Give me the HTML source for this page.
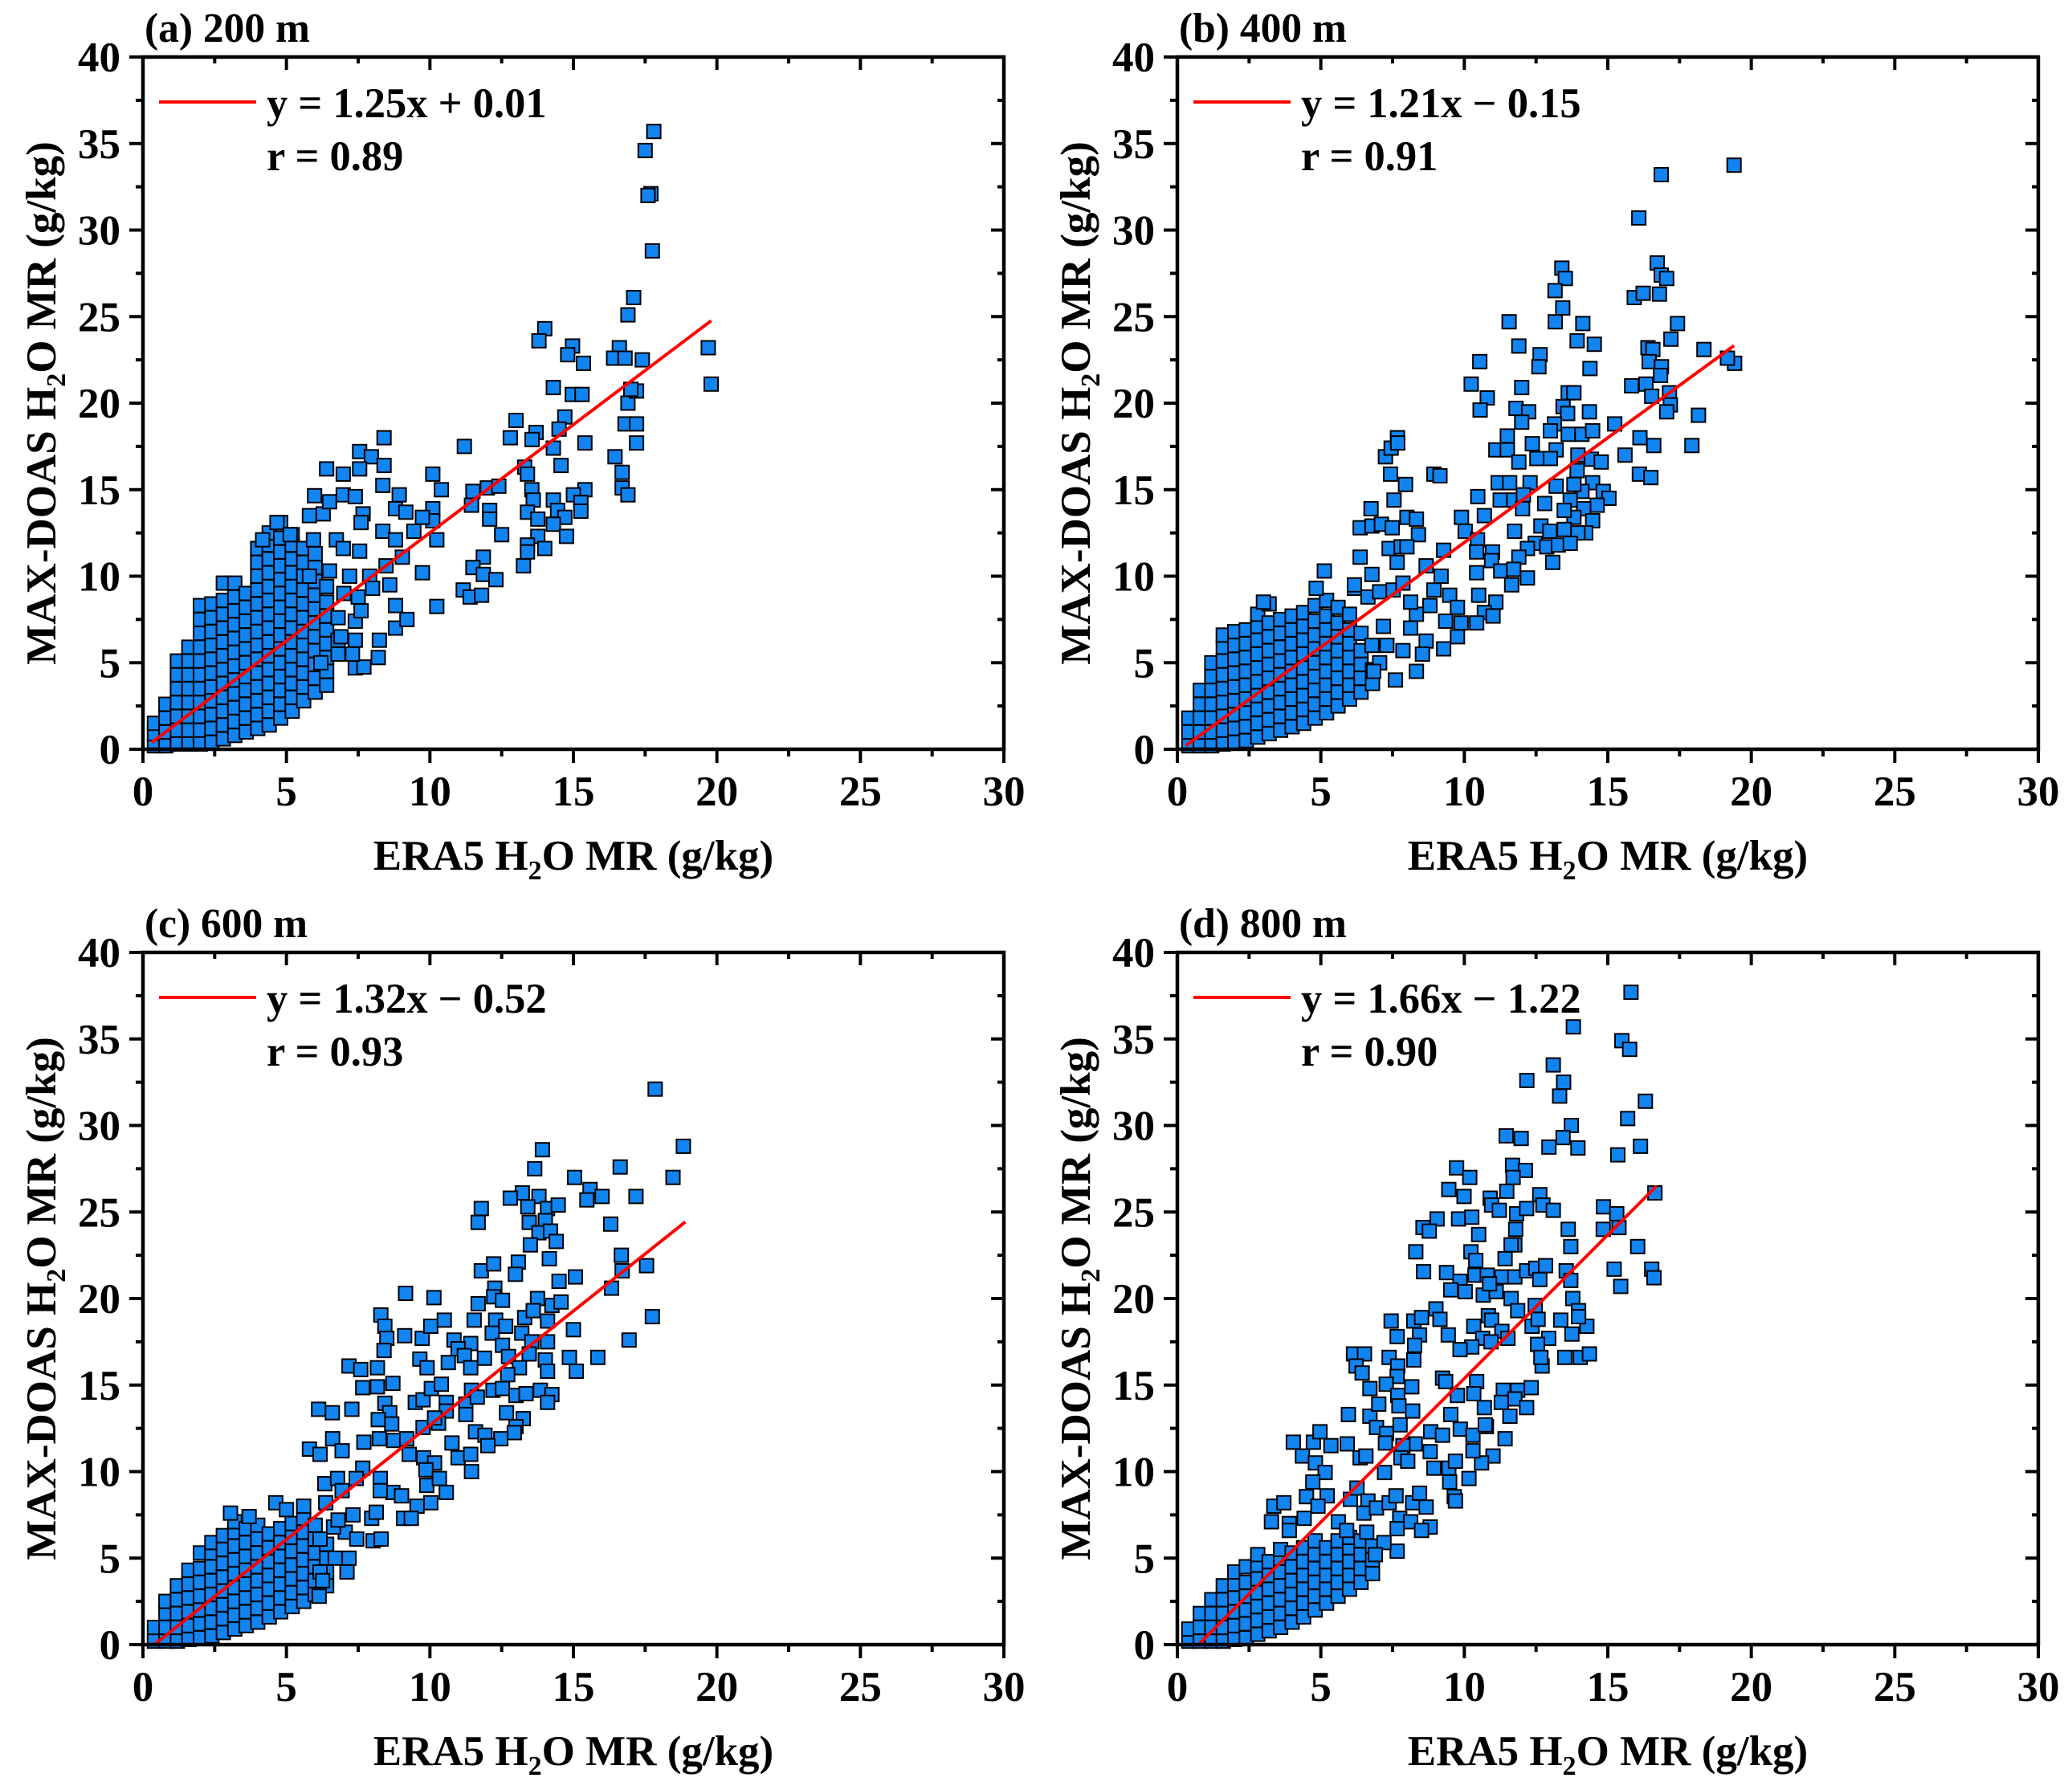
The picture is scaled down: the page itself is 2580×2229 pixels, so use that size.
<!DOCTYPE html>
<html><head><meta charset="utf-8">
<style>
html,body{margin:0;padding:0;background:#fff;}
svg{display:block;}
text{font-family:"Liberation Serif",serif;font-weight:bold;fill:#000;}
</style></head>
<body>
<svg id="fig" xmlns="http://www.w3.org/2000/svg" width="2580" height="2229" viewBox="0 0 2580 2229"></svg>
<script>
// ---------- data ----------
const xTicks = [0,5,10,15,20,25,30];
const yTicks = [0,5,10,15,20,25,30,35,40];
const panelTitles = ["(a) 200 m","(b) 400 m","(c) 600 m","(d) 800 m"];
const slopes = [1.25,1.21,1.32,1.66];
const intercepts = [0.01,-0.15,-0.52,-1.22];
const fitRanges = [[0.3,19.8],[0.3,19.4],[0.4,18.9],[0.75,16.7]];
const eqLabels = ["y = 1.25x + 0.01","y = 1.21x \u2212 0.15","y = 1.32x \u2212 0.52","y = 1.66x \u2212 1.22"];
const rLabels = ["r = 0.89","r = 0.91","r = 0.93","r = 0.90"];

// dense clusters: [x, y1, y2, ...]
const denseA = [
[0.4,0.2,0.9,1.5],[0.8,0.2,1.0,1.8,2.6],[1.2,0.3,1.1,1.9,2.7,3.5,4.3,5.1],
[1.6,0.3,1.1,1.9,2.7,3.5,4.3,5.1,5.9],[2.0,0.3,1.1,1.9,2.7,3.5,4.3,5.1,5.9,6.7,7.5,8.3],
[2.4,0.4,1.2,2.0,2.8,3.6,4.4,5.2,6.0,6.8,7.6,8.4],[2.8,0.6,1.4,2.2,3.0,3.8,4.6,5.4,6.2,7.0,7.8,8.6,9.6],
[3.2,0.8,1.6,2.4,3.2,4.0,4.8,5.6,6.4,7.2,8.0,8.8,9.6],[3.6,1.0,1.8,2.6,3.4,4.2,5.0,5.8,6.6,7.4,8.2,9.0],
[4.0,1.2,2.0,2.8,3.6,4.4,5.2,6.0,6.8,7.6,8.4,9.2,10.0,10.8,11.6],
[4.4,1.4,2.2,3.0,3.8,4.6,5.4,6.2,7.0,7.8,8.6,9.4,10.2,11.0,11.8,12.5],
[4.8,1.8,2.6,3.4,4.2,5.0,5.8,6.6,7.4,8.2,9.0,9.8,10.6,11.4,12.2,13.1],
[5.2,2.2,3.0,3.8,4.6,5.4,6.2,7.0,7.8,8.6,9.4,10.2,11.0,11.8,12.4],
[5.6,2.8,3.6,4.4,5.2,6.0,6.8,7.6,8.4,9.2,10.0,10.8,11.6],
[6.0,3.3,4.1,4.9,5.7,6.5,7.3,8.1,8.9,9.7,10.5,11.3],
[6.4,3.7,4.5,5.3,6.1,6.9,7.7,8.5,9.4],[6.8,5.5,6.3,7.6]];
const sparseA = [[17.8,35.7],[17.5,34.6],[17.7,32.1],[17.6,32.0],[17.75,28.8],[17.1,26.1],[16.9,25.1],[19.7,23.2],[19.8,21.1],
[14.0,24.3],[13.8,23.6],[14.97,23.3],[14.8,22.8],[15.35,22.3],[16.6,23.2],[16.4,22.6],[17.4,22.5],[16.8,22.6],
[14.3,20.9],[14.96,20.5],[15.3,20.5],[16.9,20.0],[17.2,20.7],[17.0,20.8],[14.7,19.2],[14.5,18.5],[16.8,18.8],[17.2,18.8],
[13.0,19.0],[12.8,18.0],[13.7,18.3],[13.56,17.9],[14.3,17.4],[15.4,17.7],[17.2,17.7],[11.2,17.5],[14.57,16.4],[13.3,16.3],[13.4,15.9],
[16.45,16.9],[16.7,16.0],[16.7,15.1],[16.9,14.7],[11.5,14.9],[11.45,14.1],[12.0,15.1],[12.4,15.2],[13.55,15.0],[13.6,14.4],
[15.4,15.0],[15.0,14.7],[15.26,14.26],[15.26,13.76],[14.3,14.4],[14.45,13.8],[14.7,13.4],[13.4,13.7],[13.76,13.3],[14.3,13.0],
[14.76,12.3],[13.76,12.3],[12.08,13.8],[12.08,13.3],[12.5,12.4],[13.4,11.8],[13.4,11.4],[14.0,11.6],[11.86,11.1],[11.5,10.5],
[11.86,10.1],[13.26,10.6],[12.3,9.8],[11.16,9.2],[11.4,8.8],[11.8,8.9],[10.24,8.25],[9.74,10.2],[10.1,13.9],[10.1,13.2],[10.24,12.1],
[10.1,15.9],[10.4,15.0],[9.74,13.4],[9.44,12.6],[8.24,6.3],[8.2,5.3],[8.8,7.0],[9.2,7.5],[7.4,4.7],[7.7,4.75],[8.8,8.3],[7.4,6.3],
[7.4,7.4],[7.5,8.8],[8.4,18.0],[7.55,17.2],[7.96,16.9],[8.4,16.4],[6.4,16.2],[6.98,15.9],[7.55,16.2],[5.98,14.65],[6.28,13.6],
[5.8,13.5],[6.5,14.3],[6.98,14.7],[7.4,14.6],[7.67,13.6],[8.36,15.25],[8.93,14.7],[8.8,13.9],[9.16,13.7],[7.6,13.1],[8.36,12.6],
[8.8,12.1],[5.94,12.1],[6.74,12.1],[6.98,11.6],[7.55,11.45],[4.67,13.1],[5.13,12.4],[4.17,12.1],[8.47,10.6],[9.04,11.1],[8.6,9.5],
[6.5,10.3],[7.2,10.0],[7.9,10.0],[5.8,10.0],[7.0,9.0],[7.6,8.0],[6.9,6.5],[8.0,9.3],[6.2,5.0],[7.3,5.5]];

const denseB = [
[0.4,0.2,1.0,1.8],[0.8,0.2,1.0,1.8,2.6,3.4],[1.2,0.2,1.0,1.8,2.6,3.4,4.2,5.0],
[1.6,0.3,1.1,1.9,2.7,3.5,4.3,5.1,5.9,6.6],[2.0,0.4,1.2,2.0,2.8,3.6,4.4,5.2,6.0,6.8],
[2.4,0.5,1.3,2.1,2.9,3.7,4.5,5.3,6.1,6.9],[2.8,0.7,1.5,2.3,3.1,3.9,4.7,5.5,6.3,7.1,7.8],
[3.2,0.9,1.7,2.5,3.3,4.1,4.9,5.7,6.5,7.3,8.4],[3.6,1.1,1.9,2.7,3.5,4.3,5.1,5.9,6.7,7.5],
[4.0,1.3,2.1,2.9,3.7,4.5,5.3,6.1,6.9,7.7],[4.4,1.5,2.3,3.1,3.9,4.7,5.5,6.3,7.1,7.9],
[4.8,1.8,2.6,3.4,4.2,5.0,5.8,6.6,7.4,8.3],[5.2,2.1,2.9,3.7,4.5,5.3,6.1,6.9,7.7,8.6],
[5.6,2.5,3.3,4.1,4.9,5.7,6.5,7.3,8.2],[6.0,2.9,3.7,4.5,5.3,6.1,6.9,7.8],
[6.4,3.3,4.1,4.9,5.7,6.7],[6.8,3.8,4.6]];
const sparseB = [[19.4,33.75],[16.86,33.2],[16.08,30.7],[16.72,28.1],[16.86,27.4],[17.05,27.2],[16.8,26.3],[15.92,26.1],[16.23,26.35],
[13.4,27.8],[13.52,27.2],[13.16,26.5],[13.43,25.5],[11.56,24.7],[13.17,24.7],[14.13,24.6],[13.93,23.6],[14.53,23.4],[17.43,24.6],[17.2,23.7],
[11.9,23.3],[12.64,22.8],[12.6,22.1],[10.54,22.4],[14.38,22.0],[18.35,23.1],[16.4,23.2],[16.57,23.1],[16.44,22.4],[16.87,22.1],
[19.42,22.3],[19.17,22.6],[10.24,21.1],[12.0,20.9],[10.8,20.3],[10.55,19.6],[11.8,19.7],[12.24,19.5],[12.0,18.9],
[15.83,21.0],[16.33,21.1],[16.84,21.6],[16.53,20.4],[17.15,20.6],[17.18,19.9],[17.05,19.5],[18.16,19.3],[17.93,17.55],
[13.62,20.6],[13.82,20.6],[13.44,19.8],[13.6,19.4],[14.36,19.5],[13.14,18.8],[13.0,18.4],[13.62,18.2],[14.1,18.2],[14.47,18.4],
[15.24,18.8],[16.12,18.0],[16.6,17.55],[11.5,18.1],[11.1,17.3],[11.5,17.3],[12.37,17.65],[13.2,17.3],[12.53,16.8],[13.0,16.8],
[11.9,16.6],[13.96,17.0],[14.43,16.76],[14.77,16.6],[15.6,17.0],[16.1,15.9],[16.5,15.7],[13.93,16.1],[14.47,15.4],[14.1,14.9],
[14.84,14.9],[15.04,14.5],[14.63,14.1],[14.16,13.9],[14.47,13.2],[14.23,12.5],[13.69,14.4],[13.82,13.4],[13.2,15.2],[13.82,15.3],
[12.8,14.2],[13.48,13.8],[11.18,15.4],[11.58,15.4],[12.29,15.4],[10.47,14.6],[11.25,14.4],[11.72,14.4],[12.06,14.7],[10.7,13.5],
[12.03,13.9],[9.9,13.4],[11.75,12.6],[12.67,12.9],[12.98,12.6],[13.48,12.7],[13.96,12.5],[12.47,11.9],[12.87,11.7],[13.28,11.8],
[13.69,11.9],[12.2,11.6],[13.08,10.8],[11.9,11.1],[10.03,12.6],[10.46,12.1],[10.43,11.4],[10.98,11.4],[10.95,10.9],[10.43,10.2],
[11.27,10.3],[11.72,10.4],[12.2,9.9],[11.65,9.5],[9.28,11.5],[8.67,10.6],[9.19,10.0],[8.94,9.2],[9.49,8.9],[9.76,8.2],[10.5,8.9],
[11.1,8.5],[10.7,7.9],[10.43,7.3],[11.0,7.7],[9.89,7.3],[9.35,7.4],[9.76,6.5],[9.28,5.8],[8.8,8.3],[8.33,7.8],[8.67,6.25],[8.13,7.0],
[8.54,5.5],[8.33,4.5],[7.6,4.0],[7.86,5.7],[7.05,5.0],[7.3,6.0],[7.18,7.1],[6.78,6.0],[6.84,4.5],[6.17,9.3],[6.64,8.8],[7.05,9.1],
[7.52,9.2],[7.86,9.6],[8.13,8.5],[6.37,11.1],[6.78,10.1],[7.66,10.8],[7.38,11.6],[7.8,11.7],[6.37,12.8],[6.78,12.9],[7.11,13.0],
[7.49,12.8],[6.75,13.9],[8.0,13.4],[8.33,13.3],[8.4,12.4],[8.0,11.7],[7.55,14.4],[7.95,15.3],[7.43,15.9],[7.25,16.9],[7.45,17.4],
[7.67,18.0],[7.68,17.7],[8.94,15.9],[9.15,15.8],[5.12,10.3],[4.84,9.3],[6.17,9.5],[3.0,8.5]];

const denseC = [
[0.4,0.2,1.0],[0.8,0.2,1.0,1.8,2.5],[1.2,0.2,1.0,1.8,2.6,3.4],[1.6,0.3,1.1,1.9,2.7,3.5,4.3],
[2.0,0.4,1.2,2.0,2.8,3.6,4.4,5.3],[2.4,0.5,1.3,2.1,2.9,3.7,4.5,5.3,5.9],
[2.8,0.7,1.5,2.3,3.1,3.9,4.7,5.5,6.3],[3.2,0.9,1.7,2.5,3.3,4.1,4.9,5.7,6.5,7.1],
[3.6,1.1,1.9,2.7,3.5,4.3,5.1,5.9,6.7],[4.0,1.3,2.1,2.9,3.7,4.5,5.3,6.1,6.9],
[4.4,1.6,2.4,3.2,4.0,4.8,5.6,6.4],[4.8,1.9,2.7,3.5,4.3,5.1,5.9,6.7],
[5.2,2.2,3.0,3.8,4.6,5.4,6.2,7.0],[5.6,2.5,3.3,4.1,4.9,5.7,6.5,7.3],
[6.0,2.9,3.7,4.5,5.3,6.1,6.9],[6.4,3.4,4.2,5.0,5.8]];
const sparseC = [[17.85,32.1],[18.83,28.8],[13.92,28.6],[16.63,27.6],[13.65,27.5],[15.04,27.0],[18.47,27.0],[13.22,26.1],[12.8,25.8],
[13.8,25.9],[13.41,25.3],[14.1,25.2],[14.47,25.4],[15.58,26.3],[15.47,25.7],[16.0,25.9],[17.18,25.9],[11.79,25.2],[11.68,24.4],
[13.46,24.4],[14.02,24.5],[13.8,23.8],[14.2,23.9],[14.4,23.3],[13.5,23.1],[14.16,22.3],[16.3,24.3],[16.67,22.5],[16.7,21.6],
[17.55,21.9],[11.79,21.6],[12.22,22.0],[13.08,22.1],[12.98,21.4],[14.5,21.0],[15.07,21.25],[16.33,20.6],[9.15,20.3],[10.14,20.05],
[12.26,20.6],[12.22,20.1],[11.68,19.7],[12.53,19.9],[13.75,20.0],[14.25,19.6],[14.57,19.8],[8.29,19.05],[8.43,18.4],[8.5,17.7],
[8.4,17.0],[9.12,17.85],[9.73,17.7],[10.03,18.4],[10.5,18.75],[11.54,18.75],[12.29,18.75],[12.64,18.4],[13.3,18.9],[13.6,19.3],
[14.1,18.7],[15.0,18.2],[17.75,18.95],[16.94,17.6],[10.84,17.6],[11.42,17.4],[10.98,17.1],[12.17,18.0],[12.53,17.3],[13.2,18.0],
[13.55,17.5],[14.1,17.5],[9.65,16.5],[9.9,16.0],[10.64,16.3],[11.2,16.7],[11.9,16.55],[11.42,16.0],[12.74,16.65],[13.12,16.0],
[13.46,16.8],[14.02,16.45],[14.1,15.8],[14.86,16.6],[15.1,15.8],[15.85,16.6],[12.71,15.6],[7.18,16.1],[7.59,15.9],[8.17,16.0],
[7.66,14.85],[8.17,14.9],[8.71,15.1],[6.12,13.6],[6.6,13.4],[7.28,13.6],[8.43,13.95],[8.6,13.4],[9.49,14.0],[9.76,14.15],[10.05,14.8],
[10.4,15.05],[10.57,14.0],[11.25,13.9],[11.45,14.7],[12.2,14.7],[12.53,14.8],[13.0,14.4],[13.35,14.5],[13.85,14.7],[14.25,14.45],
[14.1,14.0],[11.65,14.3],[11.25,13.3],[10.57,13.5],[8.2,13.0],[8.67,12.75],[9.76,12.55],[10.3,12.8],[10.16,13.1],[12.67,13.4],
[13.25,13.06],[13.0,12.6],[12.94,12.25],[11.59,12.3],[11.92,12.1],[12.47,11.9],[12.02,11.5],[5.8,11.3],[6.17,11.0],[6.61,11.9],
[6.94,11.2],[7.7,11.7],[8.24,11.9],[8.74,11.8],[9.19,11.9],[10.77,11.65],[10.98,10.8],[11.42,11.0],[11.45,10.0],[9.28,11.0],
[9.78,10.8],[10.16,10.5],[9.86,10.1],[7.66,10.2],[8.27,9.6],[8.71,8.8],[9.01,8.6],[9.89,9.2],[10.33,9.6],[10.57,8.8],[10.03,8.2],
[9.55,8.0],[9.08,7.3],[9.35,7.3],[6.34,9.3],[6.78,9.6],[6.94,8.9],[7.43,9.6],[8.27,8.9],[7.32,7.5],[7.97,7.3],[8.13,7.65],[8.02,6.0],
[8.3,6.1],[7.05,6.5],[7.45,6.1],[7.18,5.0],[7.11,4.2],[6.64,6.8],[6.7,5.0],[6.37,8.2],[6.17,6.1],[6.17,4.2],[6.26,3.7],[6.14,2.8],
[4.63,8.2],[3.05,7.6],[3.7,7.4],[5.6,8.0],[5.0,7.8],[6.8,7.2]];

const denseD = [
[0.4,0.2,0.9],[0.8,0.2,1.0,1.8],[1.2,0.2,1.0,1.8,2.6],[1.6,0.2,1.0,1.8,2.6,3.4],
[2.0,0.3,1.1,1.9,2.7,3.5,4.2],[2.4,0.4,1.2,2.0,2.8,3.6,4.5],[2.8,0.6,1.4,2.2,3.0,3.8,4.6,5.2],
[3.2,0.8,1.6,2.4,3.2,4.0,4.8],[3.6,1.0,1.8,2.6,3.4,4.2,5.0,5.5],[4.0,1.3,2.1,2.9,3.7,4.5,5.3],
[4.4,1.6,2.4,3.2,4.0,4.8,5.6],[4.8,2.0,2.8,3.6,4.4,5.2,6.0],[5.2,2.4,3.2,4.0,4.8,5.6],
[5.6,2.8,3.6,4.4,5.2,6.0],[6.0,3.2,4.0,4.8,5.6,6.2],[6.4,3.6,4.4,5.2,6.0],[6.8,4.1,4.9,5.7]];
const sparseD = [[15.81,37.7],[13.8,35.7],[15.49,34.9],[15.76,34.4],[13.1,33.5],[12.18,32.6],[13.46,32.5],[13.32,31.7],[16.31,31.4],
[15.69,30.4],[13.73,30.0],[13.44,29.3],[11.46,29.4],[11.98,29.25],[12.95,28.75],[13.96,28.7],[15.35,28.3],[16.14,28.8],[9.73,27.55],
[11.68,27.7],[12.13,27.4],[11.7,27.0],[10.19,27.0],[9.46,26.3],[9.99,25.9],[11.48,26.2],[10.9,25.8],[10.95,25.4],[11.22,25.1],
[11.82,24.9],[12.17,25.2],[12.63,26.0],[12.74,25.4],[13.1,25.1],[14.85,25.3],[15.31,24.9],[16.64,26.1],[9.05,24.6],[8.56,24.1],
[8.78,23.9],[9.8,24.6],[10.26,24.7],[10.5,23.7],[11.79,24.0],[11.76,23.1],[11.63,23.1],[13.62,24.0],[14.84,24.0],[15.39,24.1],
[13.71,23.0],[16.04,23.0],[8.31,22.7],[10.23,22.7],[10.4,22.2],[11.42,22.3],[8.58,21.55],[9.38,21.5],[9.85,21.0],[10.37,21.35],
[10.8,21.35],[11.31,21.25],[11.76,21.25],[12.17,21.6],[12.49,21.75],[12.83,21.9],[12.63,21.1],[13.55,21.6],[13.71,21.05],
[15.22,21.7],[15.45,20.7],[16.53,21.7],[16.61,21.2],[9.53,20.5],[10.03,20.4],[10.66,20.2],[11.11,20.4],[10.88,20.85],[11.63,20.0],
[11.86,19.3],[12.47,19.6],[13.78,20.0],[13.98,19.3],[7.45,18.7],[8.24,18.7],[8.51,18.9],[9.01,19.4],[9.15,18.8],[7.66,17.8],
[8.44,17.9],[8.27,17.3],[9.44,17.9],[10.33,18.4],[10.84,19.0],[10.95,18.75],[11.31,18.1],[11.52,17.7],[10.64,17.7],[10.26,17.2],
[9.85,17.05],[10.93,17.5],[12.36,18.4],[12.57,18.8],[12.94,17.7],[12.55,17.35],[13.36,18.75],[13.75,17.95],[14.27,18.4],[13.98,18.95],
[12.71,16.1],[12.67,16.6],[13.5,16.6],[14.04,16.6],[14.36,16.8],[6.14,16.8],[6.52,16.8],[6.23,16.1],[6.44,15.7],[7.38,16.6],
[7.68,16.1],[7.66,15.5],[8.24,16.45],[6.71,14.8],[7.28,15.05],[7.68,14.4],[8.17,14.9],[9.24,15.4],[9.35,15.2],[10.43,15.2],
[9.76,14.4],[10.33,14.5],[11.36,14.7],[11.86,14.7],[12.33,14.85],[11.76,14.2],[12.17,13.7],[11.29,14.0],[10.7,13.7],[11.59,13.2],
[10.77,12.6],[5.96,13.3],[6.71,13.2],[7.02,13.9],[7.72,13.8],[8.2,13.5],[6.94,12.55],[7.29,12.2],[7.76,12.7],[7.25,11.65],
[9.53,13.3],[9.86,12.45],[10.3,12.1],[10.73,12.7],[8.83,12.3],[9.24,12.1],[8.29,11.6],[7.86,11.5],[11.42,11.9],[11.0,10.9],
[10.6,10.5],[10.3,11.2],[4.04,11.7],[4.74,11.7],[4.97,12.3],[5.35,11.5],[5.92,11.6],[4.36,10.9],[4.81,10.5],[5.15,9.95],
[6.37,10.8],[6.57,10.9],[7.22,9.95],[7.79,10.8],[8.03,10.6],[8.81,11.15],[8.94,10.2],[9.46,10.2],[9.69,10.6],[10.16,9.6],
[9.49,9.4],[9.65,8.55],[9.69,8.3],[4.72,9.4],[4.5,8.55],[5.22,8.6],[4.9,8.0],[6.03,8.4],[6.26,9.05],[6.64,8.3],[6.5,7.6],
[6.94,7.9],[7.38,8.2],[7.62,8.6],[8.2,8.2],[8.44,8.75],[8.67,7.95],[3.36,8.0],[3.71,8.2],[3.28,7.1],[3.9,7.0],[3.9,6.6],[4.42,7.3],
[5.61,7.1],[7.75,7.3],[8.13,7.1],[7.66,6.7],[8.81,6.8],[8.51,6.6],[7.66,5.4],[6.6,6.5],[7.2,5.9],[6.9,5.2],[5.9,6.6]];

const denseSets = [denseA, denseB, denseC, denseD];
const sparseSets = [sparseA, sparseB, sparseC, sparseD];

// ---------- layout ----------
const NS = "http://www.w3.org/2000/svg";
const svg = document.getElementById("fig");
const PW = 1072, PH = 862, XMAX = 30, YMAX = 40;
const origins = [[178,71],[1466,71],[178,1186],[1466,1186]];
const panelNames = ["panel-a-200m","panel-b-400m","panel-c-600m","panel-d-800m"];

function mk(tag, attrs, parent){
  const e = document.createElementNS(NS, tag);
  for (const k in attrs) e.setAttribute(k, attrs[k]);
  (parent || svg).appendChild(e);
  return e;
}

for (let p = 0; p < 4; p++){
  const L = origins[p][0], T = origins[p][1], B = T + PH, R = L + PW;
  const xs = v => L + v / XMAX * PW;
  const ys = v => B - v / YMAX * PH;
  const g = mk("g", {});
  
  

  const pts = mk("g", {}, g);
  
  
  const all = [];
  denseSets[p].forEach(col => { for (let i = 1; i < col.length; i++) all.push([col[0], col[i]]); });
  sparseSets[p].forEach(pt => all.push(pt));
  all.forEach(pt => {
    const r = mk("rect", {x: (xs(pt[0]) - 8.5).toFixed(1), y: (ys(pt[1]) - 8.5).toFixed(1), width: 17, height: 17,
      fill: "#1184f0", stroke: "#000", "stroke-width": 2}, pts);
    
    
  });

  const x0 = fitRanges[p][0], x1 = fitRanges[p][1];
  const fl = mk("line", {x1: xs(x0), y1: ys(slopes[p]*x0 + intercepts[p]), x2: xs(x1), y2: ys(slopes[p]*x1 + intercepts[p]),
    stroke: "#ff0000", "stroke-width": 4}, g);
  
  

  const fr = mk("rect", {x: L, y: T, width: PW, height: PH, fill: "none", stroke: "#000", "stroke-width": 4.5}, g);
  
  

  const tk = mk("g", {stroke: "#000", "stroke-width": 4}, g);
  
  
  for (let v = 0; v <= XMAX + 0.01; v += 2.5){
    const major = Math.abs(v % 5) < 0.01;
    const x = xs(v);
    mk("line", {x1: x, y1: B, x2: x, y2: B + (major ? 17 : 9)}, tk);
    mk("line", {x1: x, y1: T, x2: x, y2: T + (major ? 16 : 8)}, tk);
  }
  for (let v = 0; v <= YMAX + 0.01; v += 2.5){
    const major = Math.abs(v % 5) < 0.01;
    const y = ys(v);
    mk("line", {x1: L, y1: y, x2: L - (major ? 17 : 9), y2: y}, tk);
    mk("line", {x1: R, y1: y, x2: R - (major ? 16 : 8), y2: y}, tk);
  }
  xTicks.forEach(v => {
    const t = mk("text", {x: xs(v), y: B + 70, "font-size": 53, "text-anchor": "middle"}, g);
    t.textContent = v;
    
    
  });
  yTicks.forEach(v => {
    const t = mk("text", {x: L - 28, y: ys(v) + 18, "font-size": 53, "text-anchor": "end"}, g);
    t.textContent = v;
    
    
  });

  const xt = mk("text", {x: L + PW/2, y: B + 150, "font-size": 53, "text-anchor": "middle"}, g);
  xt.innerHTML = 'ERA5 H<tspan font-size="34" dy="12">2</tspan><tspan dy="-12">O MR (g/kg)</tspan>';
  
  
  const yx = L - 109, yy = T + PH/2;
  const yt = mk("text", {x: yx, y: yy, "font-size": 53, "text-anchor": "middle", transform: `rotate(-90 ${yx} ${yy})`}, g);
  yt.innerHTML = 'MAX-DOAS H<tspan font-size="34" dy="12">2</tspan><tspan dy="-12">O MR (g/kg)</tspan>';
  
  

  const pt = mk("text", {x: L + 2, y: T - 19, "font-size": 51.5}, g);
  pt.textContent = panelTitles[p];
  
  

  const lg = mk("g", {}, g);
  
  
  const ll = mk("line", {x1: L + 20, y1: T + 56, x2: L + 141, y2: T + 56, stroke: "#ff0000", "stroke-width": 4}, lg);
  
  
  const et = mk("text", {x: L + 154, y: T + 75, "font-size": 52.5}, lg);
  et.textContent = eqLabels[p];
  
  
  const rt = mk("text", {x: L + 154, y: T + 141, "font-size": 52.5}, lg);
  rt.textContent = rLabels[p];
  
  
}
</script>
</body></html>
